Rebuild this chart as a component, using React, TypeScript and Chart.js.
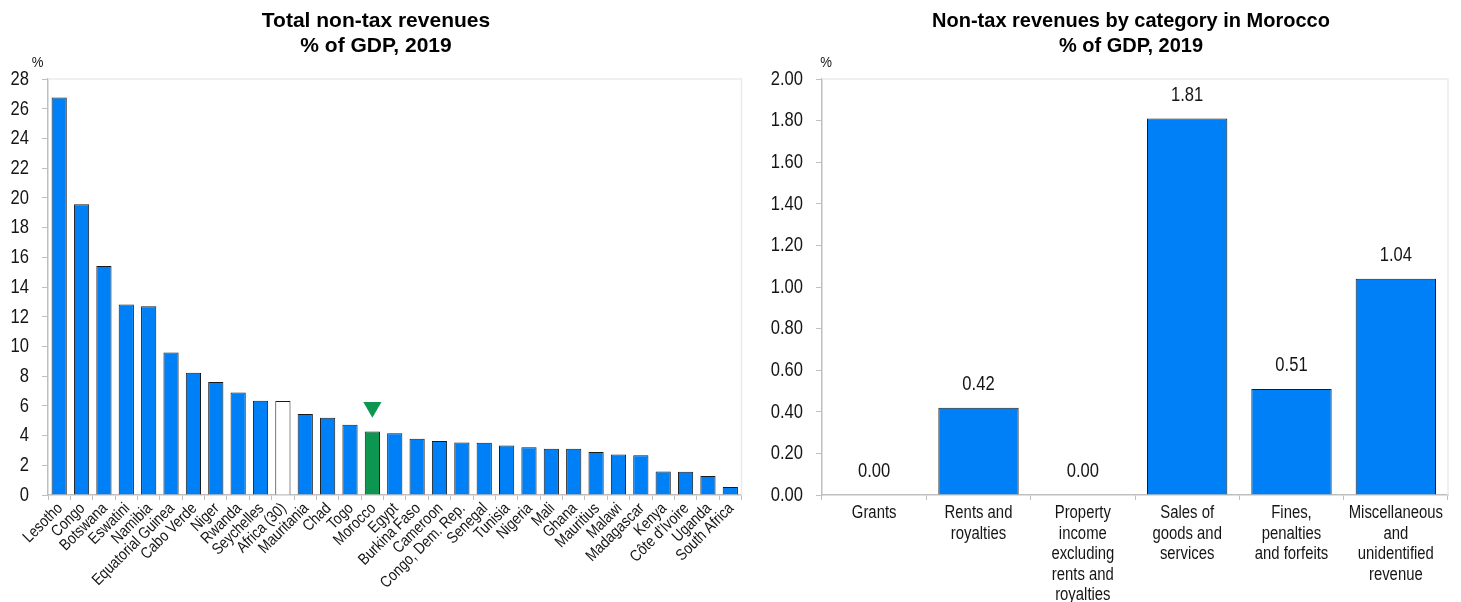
import React, { useEffect, useRef } from "react";
import { Chart, registerables } from "chart.js";

Chart.register(...registerables);

const countries: string[] = [
  "Lesotho", "Congo", "Botswana", "Eswatini", "Namibia", "Equatorial Guinea", "Cabo Verde",
  "Niger", "Rwanda", "Seychelles", "Africa (30)", "Mauritania", "Chad", "Togo", "Morocco",
  "Egypt", "Burkina Faso", "Cameroon", "Congo, Dem. Rep.", "Senegal", "Tunisia", "Nigeria",
  "Mali", "Ghana", "Mauritius", "Malawi", "Madagascar", "Kenya", "Côte d'Ivoire", "Uganda",
  "South Africa",
];
const totalNonTax: number[] = [
  26.75, 19.57, 15.42, 12.82, 12.71, 9.59, 8.23, 7.6, 6.9, 6.34, 6.32, 5.45, 5.2, 4.73, 4.28,
  4.15, 3.79, 3.63, 3.54, 3.52, 3.34, 3.21, 3.11, 3.11, 2.89, 2.73, 2.67, 1.59, 1.57, 1.28, 0.54,
];
const highlightCountry = "Morocco";
const averageLabel = "Africa (30)";
const markerValue = 5.9;

const categories: string[][] = [
  ["Grants"],
  ["Rents and", "royalties"],
  ["Property", "income", "excluding", "rents and", "royalties"],
  ["Sales of", "goods and", "services"],
  ["Fines,", "penalties", "and forfeits"],
  ["Miscellaneous", "and", "unidentified", "revenue"],
];
const moroccoValues: number[] = [0.0, 0.42, 0.0, 1.81, 0.51, 1.04];

const leftTitle = ["Total non-tax revenues", "% of GDP, 2019"];
const rightTitle = ["Non-tax revenues by category in Morocco", "% of GDP, 2019"];
const leftTicks = { min: 0, max: 28, step: 2 };
const rightTicks = { min: 0, max: 2, step: 0.2 };

const BLUE = "#0080F6";
const GREEN = "#0C9650";
const FONT = "'Liberation Sans', Arial, sans-serif";
const TEXT = "#151515";
const AXIS = "#BFBFBF";
const FRAME = "#EBEBEB";
const NARROW_X = 0.85;

function narrowText(
  ctx: CanvasRenderingContext2D,
  text: string,
  x: number,
  y: number,
  size: number,
  align: CanvasTextAlign,
  baseline: CanvasTextBaseline,
  rot = 0
) {
  ctx.save();
  ctx.translate(x, y);
  if (rot) ctx.rotate(rot);
  ctx.scale(NARROW_X, 1);
  ctx.font = `${size}px ${FONT}`;
  ctx.fillStyle = TEXT;
  ctx.textAlign = align;
  ctx.textBaseline = baseline;
  ctx.fillText(text, 0, 0);
  ctx.restore();
}

function decorPlugin(title: string[], titleX: number, titleSize: number, pctX: number) {
  return {
    id: "decor",
    beforeDatasetsDraw(chart: any) {
      const { ctx, chartArea } = chart;
      ctx.save();
      ctx.strokeStyle = FRAME;
      ctx.lineWidth = 1.5;
      ctx.beginPath();
      ctx.moveTo(chartArea.left, chartArea.top);
      ctx.lineTo(chartArea.right, chartArea.top);
      ctx.lineTo(chartArea.right, chartArea.bottom);
      ctx.stroke();
      ctx.restore();
    },
    afterDraw(chart: any) {
      const { ctx, chartArea } = chart;
      ctx.save();
      ctx.fillStyle = "#000";
      ctx.textAlign = "center";
      ctx.textBaseline = "alphabetic";
      ctx.font = `bold ${titleSize}px ${FONT}`;
      ctx.fillText(title[0], titleX, 27);
      ctx.fillText(title[1], titleX, 52);
      ctx.restore();
      narrowText(ctx, "%", pctX, 63, 15.5, "center", "middle");
      const ys = chart.scales.y;
      ys.ticks.forEach((t: any, i: number) => {
        narrowText(ctx, String(t.label), chartArea.left - 19, ys.getPixelForTick(i) + 0.5, 19.5, "right", "middle");
      });
    },
  };
}

const leftXLabels = {
  id: "leftXLabels",
  afterDraw(chart: any) {
    const { ctx, chartArea } = chart;
    const xs = chart.scales.x;
    xs.ticks.forEach((t: any, i: number) => {
      const label = chart.data.labels[i];
      narrowText(ctx, label, xs.getPixelForTick(i) + 1, chartArea.bottom + 11, 16, "right", "middle", -Math.PI / 4);
    });
  },
};

const rightXLabels = {
  id: "rightXLabels",
  afterDraw(chart: any) {
    const { ctx, chartArea } = chart;
    const xs = chart.scales.x;
    xs.ticks.forEach((t: any, i: number) => {
      const lines: string[] = chart.data.labels[i];
      lines.forEach((line, j) => {
        narrowText(ctx, line, xs.getPixelForTick(i), chartArea.bottom + 23 + j * 20.6, 17.5, "center", "alphabetic");
      });
    });
  },
};

const valueLabels = {
  id: "valueLabels",
  afterDatasetsDraw(chart: any) {
    const { ctx } = chart;
    const meta = chart.getDatasetMeta(0);
    const values = chart.data.datasets[0].data as number[];
    meta.data.forEach((bar: any, i: number) => {
      narrowText(ctx, values[i].toFixed(2), bar.x, bar.y - 23, 19.5, "center", "middle");
    });
  },
};

const hiddenTicks = { color: "rgba(0,0,0,0)", font: { family: FONT, size: 14 } };

function LeftChart() {
  const ref = useRef<HTMLCanvasElement>(null);
  useEffect(() => {
    const colors = countries.map((c) =>
      c === highlightCountry ? GREEN : c === averageLabel ? "#FFFFFF" : BLUE
    );
    const marker = countries.map((c) => (c === highlightCountry ? markerValue : null));
    const chart = new Chart(ref.current!, {
      type: "bar",
      data: {
        labels: countries,
        datasets: [
          {
            type: "line" as any,
            data: marker as any,
            showLine: false,
            pointStyle: "triangle",
            rotation: 180,
            pointRadius: 10.5,
            backgroundColor: GREEN,
            borderColor: GREEN,
            borderWidth: 0,
            order: 0,
          } as any,
          {
            data: totalNonTax,
            backgroundColor: colors,
            borderColor: "#1a1a1a",
            borderWidth: 1,
            barPercentage: 0.68,
            categoryPercentage: 1,
            order: 1,
          },
        ],
      },
      options: {
        responsive: false,
        animation: false,
        layout: { padding: { top: 79, right: 8, left: 0, bottom: 0 } },
        plugins: { legend: { display: false }, tooltip: { enabled: false }, title: { display: false } },
        scales: {
          x: {
            offset: true,
            grid: { drawOnChartArea: false, drawTicks: true, tickLength: 5, color: AXIS, offset: true },
            border: { color: AXIS, width: 1.5 },
            ticks: { ...hiddenTicks, autoSkip: false, minRotation: 45, maxRotation: 45 },
            afterFit: (s: any) => {
              s.height = 107;
            },
          },
          y: {
            min: leftTicks.min,
            max: leftTicks.max,
            grid: { drawOnChartArea: false, drawTicks: true, tickLength: 6, color: AXIS },
            border: { color: AXIS, width: 1.5 },
            ticks: { ...hiddenTicks, stepSize: leftTicks.step },
            afterFit: (s: any) => {
              s.width = 48;
            },
          },
        },
      },
      plugins: [decorPlugin(leftTitle, 376, 21, 37.5), leftXLabels],
    });
    return () => chart.destroy();
  }, []);
  return (
    <canvas ref={ref} width={752} height={602} style={{ position: "absolute", left: 0, top: 0 }} />
  );
}

function RightChart() {
  const ref = useRef<HTMLCanvasElement>(null);
  useEffect(() => {
    const chart = new Chart(ref.current!, {
      type: "bar",
      data: {
        labels: categories as any,
        datasets: [
          {
            data: moroccoValues,
            backgroundColor: BLUE,
            borderColor: "#1a1a1a",
            borderWidth: 1,
            barPercentage: 0.77,
            categoryPercentage: 1,
          },
        ],
      },
      options: {
        responsive: false,
        animation: false,
        layout: { padding: { top: 79, right: 13, left: 0, bottom: 0 } },
        plugins: { legend: { display: false }, tooltip: { enabled: false }, title: { display: false } },
        scales: {
          x: {
            grid: { drawOnChartArea: false, drawTicks: true, tickLength: 5, color: AXIS, offset: true },
            border: { color: AXIS, width: 1.5 },
            ticks: { ...hiddenTicks, autoSkip: false, maxRotation: 0, minRotation: 0 },
            afterFit: (s: any) => {
              s.height = 107;
            },
          },
          y: {
            min: rightTicks.min,
            max: rightTicks.max,
            grid: { drawOnChartArea: false, drawTicks: true, tickLength: 6, color: AXIS },
            border: { color: AXIS, width: 1.5 },
            ticks: {
              ...hiddenTicks,
              stepSize: rightTicks.step,
              callback: (v: any) => Number(v).toFixed(2),
            },
            afterFit: (s: any) => {
              s.width = 70;
            },
          },
        },
      },
      plugins: [decorPlugin(rightTitle, 379, 20, 74), rightXLabels, valueLabels],
    });
    return () => chart.destroy();
  }, []);
  return (
    <canvas ref={ref} width={709} height={602} style={{ position: "absolute", left: 752, top: 0 }} />
  );
}

export default function App() {
  return (
    <div
      style={{
        position: "fixed",
        left: 0,
        top: 0,
        width: 1461,
        height: 602,
        background: "#fff",
        overflow: "hidden",
      }}
    >
      <LeftChart />
      <RightChart />
    </div>
  );
}
